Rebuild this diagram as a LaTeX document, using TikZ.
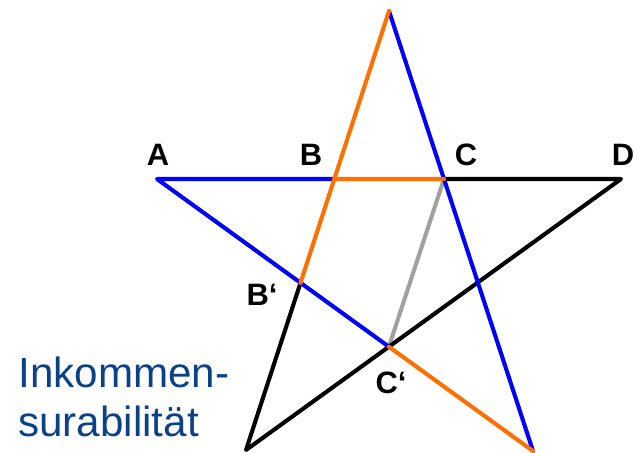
\documentclass[tikz,border=0pt]{standalone}
\usepackage{fontspec}
\setmainfont{Liberation Sans}
\usepackage{tikz}
\usetikzlibrary{calc}
\definecolor{lineblue}{HTML}{0000FF}
\definecolor{lineorange}{HTML}{FF7000}
\definecolor{linegray}{HTML}{A0A0A0}
\definecolor{textblue}{HTML}{0B4287}
\tikzset{
  edge/.style={line width=2.9pt,line cap=round,line join=round},
  ptlabel/.style={font=\fontsize{22}{26}\selectfont\bfseries,inner sep=0pt},
  caption/.style={font=\fontsize{30}{35}\selectfont,textblue,inner sep=0pt,anchor=base west}
}

\begin{document}
\begin{tikzpicture}[x=0.025cm,y=-0.025cm]
        \useasboundingbox (0,0) rectangle (634,453);
        % corners of the pentagram
        \coordinate (T) at (389,11);
        \coordinate (A) at (157,179);
        \coordinate (D) at (621,179);
        \coordinate (L) at (246,450);
        \coordinate (R) at (533,451);
        % crossings
        \coordinate (B) at (intersection of A--D and T--L);
        \coordinate (C) at (intersection of A--D and T--R);
        \coordinate (Bp) at (intersection of A--R and T--L);
        \coordinate (Cp) at (intersection of A--R and D--L);
        \draw[edge,linegray] (C) -- (Cp);
        \draw[edge] (C) -- (D) -- (L) -- (Bp);
        \draw[edge,lineblue] (T) -- (R);
        \draw[edge,lineblue] (B) -- (A) -- (Cp);
        \draw[edge,lineorange] (Cp) -- (R);
        \draw[edge,lineorange] (Bp) -- (T);
        \draw[edge,lineorange] (B) -- (C);
        \node[ptlabel] (labA) at (158,155) {A};
        \node[ptlabel] (labB) at (311,155) {B};
        \node[ptlabel] (labC) at (466,155) {C};
        \node[ptlabel] (labD) at (623,155) {D};
        \node[ptlabel] (labBp) at (262,295) {B‘};
        \node[ptlabel] (labCp) at (391,383) {C‘};
        \node[caption] (txt1) at (18,388) {Inkommen-};
        \node[caption] (txt2) at (18,437) {surabilität};
      \end{tikzpicture}
\end{document}
